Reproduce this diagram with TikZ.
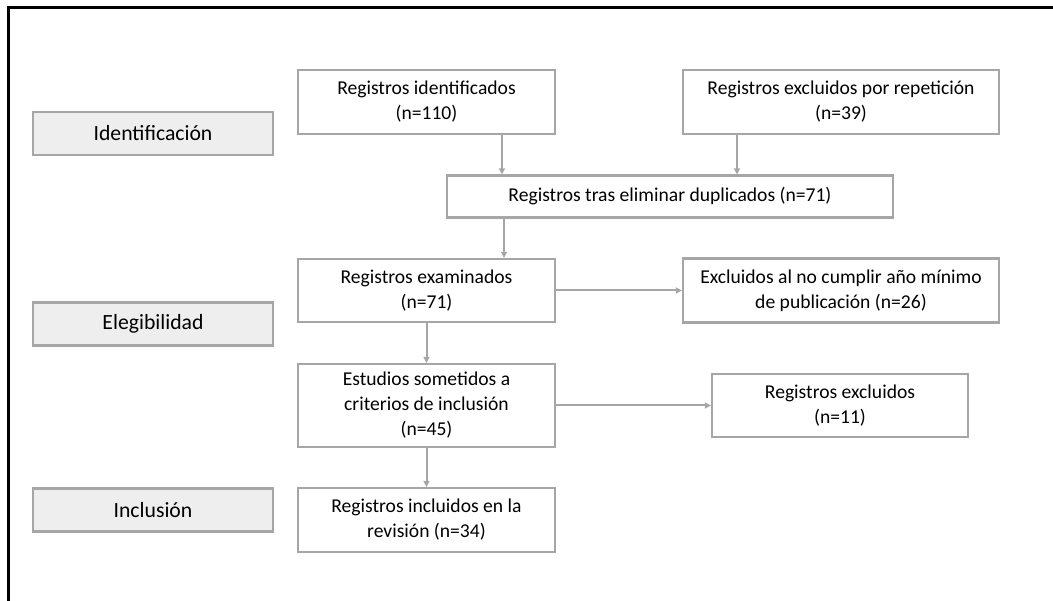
\documentclass[tikz,border=0pt]{standalone}
\usepackage{fontspec}
\setmainfont{Carlito}
\usetikzlibrary{arrows.meta}
\definecolor{boxgray}{HTML}{A6A6A6}
\definecolor{labfill}{HTML}{EEEEEE}
\begin{document}
\begin{tikzpicture}[x=1pt,y=-1pt,
  flowbox/.style={draw=boxgray, line width=2.2pt, fill=white, align=center, inner sep=0pt,
    font=\fontsize{19.6}{25}\selectfont},
  stagebox/.style={draw=boxgray, line width=2.2pt, fill=labfill, align=center, inner sep=0pt,
    minimum width=240pt, minimum height=43pt, font=\fontsize{21.7}{26}\selectfont},
  arr/.style={draw=boxgray, line width=2pt, -{Triangle[length=6pt,width=6pt]}}
]
\useasboundingbox (0,0) rectangle (1053,601);
\draw[line width=3pt] (8.5,620) -- (8.5,8) -- (1070,8);

% stage labels
\node[stagebox] (sid) at (153,133.5) {Identificación};
\node[stagebox] (sel) at (153,324) {Elegibilidad};
\node[stagebox] (sin) at (153,510) {Inclusión};

% flow boxes
\node[flowbox, minimum width=257pt, minimum height=64pt] (rid) at (426.5,102) {Registros identificados\\(n=110)};
\node[flowbox, minimum width=316pt, minimum height=64pt] (rexr) at (841,102) {Registros excluidos por repetición\\(n=39)};
\node[flowbox, minimum width=446pt, minimum height=42pt] (dup) at (670,196.5) {Registros tras eliminar duplicados (n=71)};
\node[flowbox, minimum width=257pt, minimum height=63pt] (exam) at (426.5,290.5) {Registros examinados\\(n=71)};
\node[flowbox, minimum width=316pt, minimum height=64pt] (exano) at (841,290.5) {Excluidos al no cumplir año mínimo\\de publicación (n=26)};
\node[flowbox, minimum width=257pt, minimum height=83pt] (est) at (426.5,405.5) {Estudios sometidos a\\criterios de inclusión\\(n=45)};
\node[flowbox, minimum width=256pt, minimum height=63pt] (rexc) at (840,405.5) {Registros excluidos\\(n=11)};
\node[flowbox, minimum width=257pt, minimum height=64pt] (incb) at (426.5,520) {Registros incluidos en la\\revisión (n=34)};

% connectors
\draw[arr] ([xshift=75.5pt]rid.south) -- ([xshift=75.5pt]rid.south |- dup.north);
\draw[arr] ([xshift=-104pt]rexr.south) -- ([xshift=-104pt]rexr.south |- dup.north);
\draw[arr] ([xshift=77.5pt]exam.north |- dup.south) -- ([xshift=77.5pt]exam.north);
\draw[arr] (exam.south) -- (est.north);
\draw[arr] (est.south) -- (incb.north);
\draw[arr] (exam.east) -- (exano.west);
\draw[arr] (est.east) -- (rexc.west);
\end{tikzpicture}
\end{document}
